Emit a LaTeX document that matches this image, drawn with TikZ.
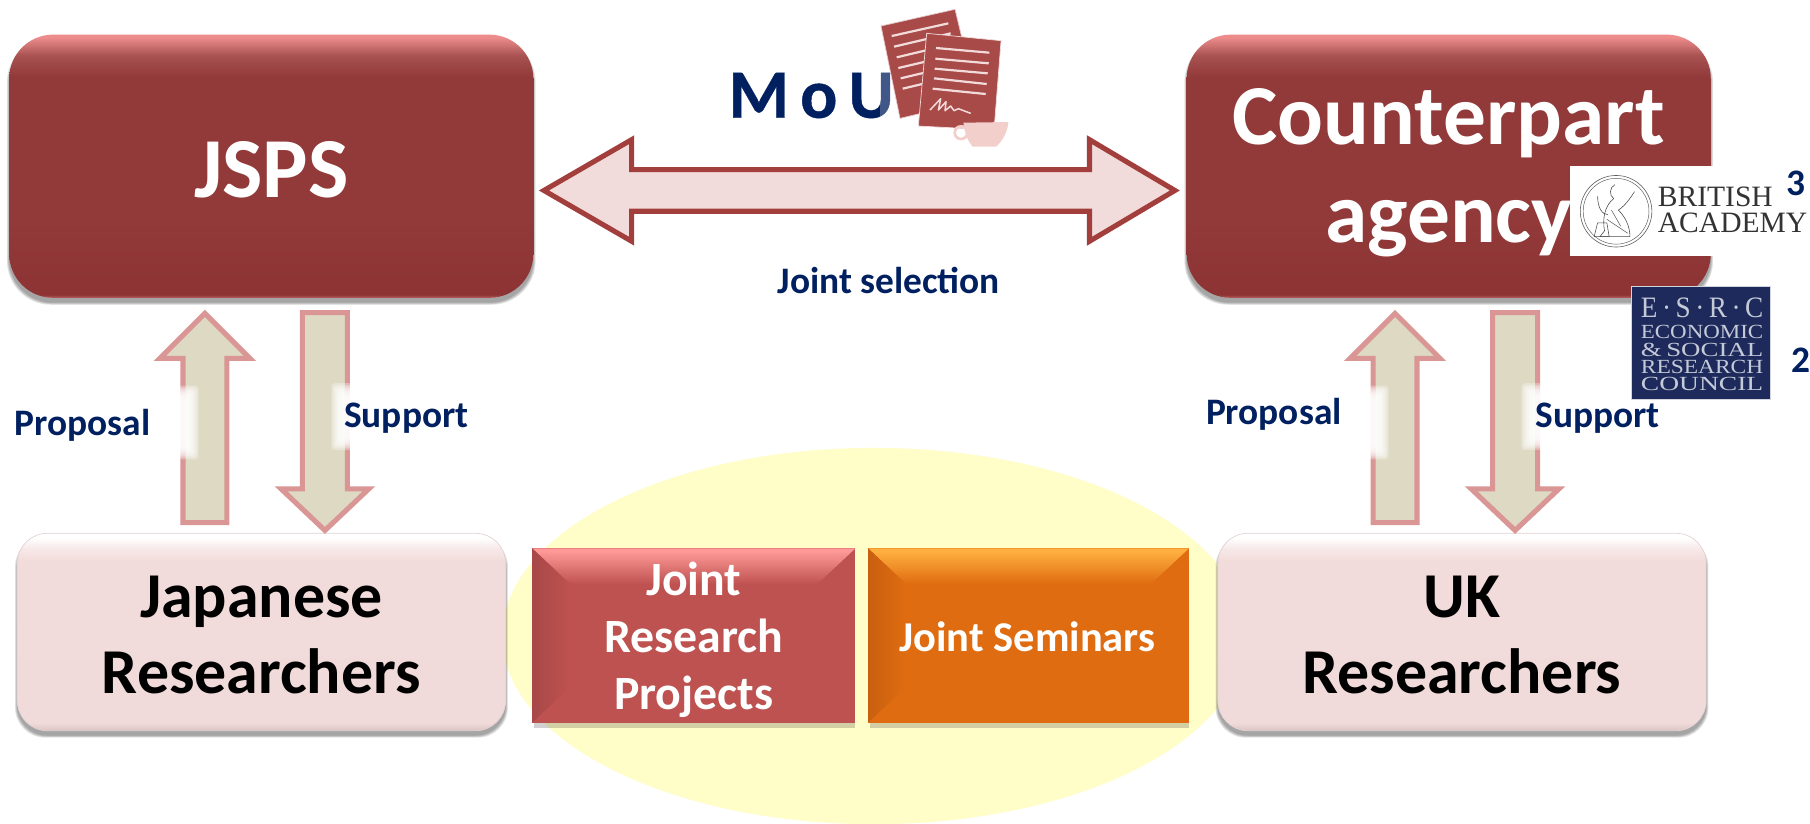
\documentclass[tikz,border=0pt]{standalone}
\usepackage{graphicx}
\usepackage{fontspec}
\setmainfont{Carlito}
\newfontfamily\logofont{Liberation Serif}
\newfontfamily\moufont[LetterSpace=16,BoldFeatures={FakeBold=0.6}]{Carlito}
\usetikzlibrary{calc,shapes.geometric}
\definecolor{navy}{HTML}{002060}
\definecolor{boxdark}{HTML}{923939}
\definecolor{boxedge}{HTML}{A23F3D}
\definecolor{paleroe}{HTML}{F2DCDB}
\definecolor{rose}{HTML}{D99694}
\definecolor{khaki}{HTML}{DDD9C3}
\definecolor{docred}{HTML}{A84A48}
\definecolor{cupcol}{HTML}{F2CFCB}
\definecolor{esrcblue}{HTML}{1D2A5B}
\definecolor{esrctext}{HTML}{C4CAD8}
\definecolor{dbA}{HTML}{B85E5E}
\definecolor{dbB}{HTML}{8D3333}
\definecolor{dbC}{HTML}{A85252}
\definecolor{dbD}{HTML}{EE8C8C}
\definecolor{pbA}{HTML}{DCC4C4}
\definecolor{pbB}{HTML}{F0DADA}
\definecolor{pbC}{HTML}{F7E8E8}
\definecolor{brA}{HTML}{BE5250}
\definecolor{brB}{HTML}{FF9A98}
\definecolor{boA}{HTML}{DF6C10}
\definecolor{boB}{HTML}{FFB040}
\definecolor{paleedge}{HTML}{E3D2D2}
\definecolor{sideA}{HTML}{A84848}
\definecolor{sideB}{HTML}{C96010}
\definecolor{yellowbg}{HTML}{FFFDC8}
\pgfdeclareverticalshading{darkbox}{100bp}{color(0bp)=(dbA); color(25bp)=(dbA); color(25.6bp)=(dbB); color(40bp)=(boxdark); color(67bp)=(boxdark); color(71bp)=(dbC); color(74.5bp)=(dbD); color(100bp)=(dbD)}
\pgfdeclareverticalshading{palebox}{100bp}{color(0bp)=(pbA); color(25bp)=(pbA); color(27bp)=(pbB); color(60bp)=(paleroe); color(68bp)=(paleroe); color(71bp)=(pbC); color(74bp)=(white); color(100bp)=(white)}
\pgfdeclareverticalshading{bevelred}{100bp}{color(0bp)=(brA); color(25bp)=(brA); color(72bp)=(brB); color(100bp)=(brB)}
\pgfdeclareverticalshading{bevelorange}{100bp}{color(0bp)=(boA); color(25bp)=(boA); color(72bp)=(boB); color(100bp)=(boB)}
\tikzset{
  bigbox/.style={rectangle,rounded corners=38pt,shading=darkbox,inner sep=0pt},
  palebx/.style={rectangle,rounded corners=26pt,shading=palebox,draw=paleedge,line width=.6pt,inner sep=0pt},
  paletext/.style={text=black,font=\bfseries\fontsize{55.4}{66}\selectfont,align=center,inner sep=0pt},
  lbl/.style={text=navy,font=\bfseries\fontsize{32.4}{36}\selectfont,inner sep=0pt},
  blocktext/.style={text=white,font=\bfseries\fontsize{41.4}{49.5}\selectfont,align=center,inner sep=0pt},
  blockarr/.style={draw=rose,fill=khaki,line width=4.4pt,miter limit=10},
  wide/.style={draw=boxedge,fill=paleroe,line width=4.4pt,miter limit=10},
  pagecol/.style={fill=docred,draw=white!70!docred,line width=.6pt},
  pageline/.style={draw=paleroe,line width=1.9pt},
  bigtext/.style={text=white,font=\bfseries\fontsize{74}{85}\selectfont,align=center,inner sep=0pt},
  logotext/.style={inner sep=0pt,anchor=base west,text=black!80,font=\logofont\fontsize{25.6}{28}\selectfont},
  esrctxt/.style={inner sep=0pt,text=esrctext,font=\logofont}
}
\newcommand\softshadow[5]{% x1 y1 x2 y2 radius
  \foreach \k in {0,1,2,3}{
    \fill[black,opacity=.10,rounded corners=#5] ({#1-2+\k*.6},{#2+3+\k*.6}) rectangle ({#3+2-\k*.6},{#4+6-\k*.6});
  }}
% from, to, half shaft, half head, head length
\newcommand\hollowarrow[5]{%
  \coordinate (hb) at ($(#2)!#5pt!(#1)$);
  \coordinate (sa) at ($(#1)!#3pt!90:(#2)$);
  \coordinate (sb) at ($(#1)!#3pt!-90:(#2)$);
  \coordinate (ha) at ($(hb)!#3pt!90:(#2)$);
  \coordinate (hc) at ($(hb)!#3pt!-90:(#2)$);
  \coordinate (ta) at ($(hb)!#4pt!90:(#2)$);
  \coordinate (tc) at ($(hb)!#4pt!-90:(#2)$);
  \draw[blockarr] (sa) -- (ha) -- (ta) -- (#2) -- (tc) -- (hc) -- (sb) -- cycle;
}
% fixed x, soft x, direction of softening, y1, y2
\newcommand\blurpatch[5]{%
  \foreach \k in {0,...,7}{
    \fill[white,opacity=.3,rounded corners=3pt] (#1,{#4+\k*1.5}) rectangle ({#2+#3*\k*1.5},{#5-\k*1.5});
  }}
\begin{document}
\begin{tikzpicture}[x=1pt,y=-1pt]
\useasboundingbox (0,0) rectangle (1568,713);
\fill[white] (0,0) rectangle (1568,713);
% yellow ellipse
\begin{scope}
\clip (0,0) rectangle (1568,713);
\fill[yellowbg] (757,551) ellipse [x radius=322,y radius=163];
\end{scope}
% top boxes
\softshadow{8}{30}{462}{258}{38pt}
\softshadow{1028}{30}{1482}{258}{38pt}
\node[bigbox,minimum width=454pt,minimum height=228pt] (jsps) at (235,144) {};
\node[bigbox,minimum width=454pt,minimum height=228pt] (agency) at (1255,144) {};
\node[bigtext] (jspstext) at (235,147) {JSPS};
\node[bigtext] (agencytext) at (1255,150) {Counterpart\\agency};
% lower boxes
\softshadow{15}{462}{438}{633}{26pt}
\softshadow{1055}{462}{1478}{633}{26pt}
\node[palebx,minimum width=423pt,minimum height=171pt] (jres) at (226.5,547.5) {};
\node[palebx,minimum width=423pt,minimum height=171pt] (ukres) at (1266.5,547.5) {};
\node[paletext] (jrestext) at (226.5,550) {Japanese\\Researchers};
\node[paletext] (ukrestext) at (1266.5,550) {UK\\Researchers};
% bevelled blocks
\fill[black,opacity=.18] (463,626) rectangle (741,631);
\fill[black,opacity=.18] (754,626) rectangle (1030,631);
\node[rectangle,fill=brA,minimum width=280pt,minimum height=151pt,inner sep=0pt] (redblock) at (601,550.5) {};
\node[rectangle,fill=boA,minimum width=278pt,minimum height=151pt,inner sep=0pt] (orangeblock) at (891,550.5) {};
\shade[shading=bevelred] (461,475) -- (741,475) -- (708,506) -- (494,506) -- cycle;
\shade[left color=sideA,right color=brA] (461,475) -- (494,506) -- (494,595) -- (461,626) -- cycle;
\shade[shading=bevelorange] (752,475) -- (1030,475) -- (997,506) -- (785,506) -- cycle;
\shade[left color=sideB,right color=boA] (752,475) -- (785,506) -- (785,595) -- (752,626) -- cycle;
\node[blocktext] (redtext) at (601,554) {Joint\\Research\\Projects};
\node[blocktext,font=\bfseries\fontsize{36.8}{44}\selectfont] (orangetext) at (890,552) {Joint Seminars};
% wide double arrow
\coordinate (wl) at ($(jsps.east)+(9,21)$);
\coordinate (wr) at ($(agency.west)+(-10,21)$);
\draw[wide] (wl) -- ++(76,-44) -- ++(0,26) -- ($(wr)+(-74,-18)$) -- ++(0,-26) -- (wr) -- ++(-74,44) -- ++(0,-26) -- ($(wl)+(76,18)$) -- ++(0,26) -- cycle;
% block arrows
\foreach \dx/\nm in {0/a,1031/b}{
  \begin{scope}[shift={(\dx,0)}]
  \coordinate (pf\nm) at (177.5,452.8);
  \coordinate (pt\nm) at (177.5,271.5);
  \hollowarrow{pf\nm}{pt\nm}{19}{39}{39}
  \coordinate (sf\nm) at (281.5,270.8);
  \coordinate (st\nm) at (281.5,459.5);
  \hollowarrow{sf\nm}{st\nm}{19.5}{38}{36}
  \blurpatch{153}{172}{-1}{334}{398}
  \blurpatch{306}{287}{1}{332}{390}
  \end{scope}
}
% labels
\node[lbl] (prop1) at (71.5,368.5) {Proposal};
\node[lbl] (supp1) at (352,362.5) {Support};
\node[lbl] (prop2) at (1103.5,359) {Proposal};
\node[lbl] (supp2) at (1384,362.5) {Support};
\node[lbl] (jointsel) at (770,243) {Joint selection};
% MoU
\node[text=navy,font=\moufont\bfseries\fontsize{60}{62}\selectfont,inner sep=0pt,anchor=base west] (mou) at (631,102) {MoU};
% documents (zoom-grid coordinates)
\begin{scope}[shift={(606.4,0)},x=.2888pt,y=-.2888pt]
\fill[white,opacity=.25] (540,190) rectangle (590,360);
\fill[pagecol] (543,78) -- (765,28) -- (830,300) -- (600,355) -- cycle;
\foreach \a/\b/\c/\d in {575/108/745/70,582/140/752/100,590/172/758/132,595/204/765/164,602/235/770/195,608/266/775/226}{
  \draw[pageline] (\a,\b) -- (\c,\d);
}
\fill[pagecol,draw=paleroe] (680,100) -- (903,122) -- (882,390) -- (655,378) -- cycle;
\foreach \a/\b/\c/\d in {708/144/868/158,706/176/866/190,704/206/863/220,702/235/860/252,698/266/857/282}{
  \draw[pageline] (\a,\b) -- (\c,\d);
}
\draw[pageline,line width=1.3pt,line join=round] (690,330) -- (722,296) -- (715,330) -- (738,305) -- (735,332) -- (752,318) -- (762,332) -- (775,326) -- (812,340);
\fill[cupcol] (790,368) -- (925,366) .. controls (922,400) and (905,425) .. (888,440) -- (818,440) .. controls (805,425) and (795,405) .. (790,368) -- cycle;
\draw[cupcol,line width=2.4pt] (783,398) circle [radius=19];
\end{scope}
% British Academy logo
\fill[white] (1360,144) rectangle (1568,222);
\coordinate (baseal) at (1400,183);
\draw[black!65,line width=.5pt] (baseal) circle [radius=31];
\draw[black!65,line width=.4pt] (baseal) circle [radius=28.5];
\draw[black!70,line width=.5pt,line join=round] (1399,160) .. controls (1394,162) and (1394,170) .. (1398,172) .. controls (1390,178) and (1388,190) .. (1390,200) -- (1386,205) -- (1412,205) .. controls (1412,196) and (1408,188) .. (1402,182) .. controls (1408,178) and (1412,172) .. (1416,166);
\draw[black!70,line width=.5pt] (1384,170) .. controls (1384,180) and (1388,186) .. (1393,186);
\draw[black!70,line width=.5pt] (1384,193) -- (1381,205) -- (1394,205) -- (1392,193) -- cycle;
\draw[black!70,line width=.4pt] (1392,190) -- (1410,202) (1396,182) -- (1404,196);
\node[logotext] (ba1) at (1436,178.5) {BRITISH};
\node[logotext] (ba2) at (1436,201.6) {ACADEMY};
% ESRC logo
\node[rectangle,fill=esrcblue,draw=white!80!esrcblue,line width=.6pt,minimum width=121pt,minimum height=98pt,inner sep=0pt] (esrc) at (1473.5,297) {};
\node[esrctxt] (es0) at (1474.5,267) {\resizebox{106pt}{17pt}{E\,·\,S\,·\,R\,·\,C}};
\node[esrctxt] (es1) at (1474.5,288) {\resizebox{106pt}{11.5pt}{ECONOMIC}};
\node[esrctxt] (es2) at (1474.5,303) {\resizebox{106pt}{11.5pt}{\&\,SOCIAL}};
\node[esrctxt] (es3) at (1474.5,318) {\resizebox{106pt}{11.5pt}{RESEARCH}};
\node[esrctxt] (es4) at (1474.5,333) {\resizebox{106pt}{11.5pt}{COUNCIL}};
\node[lbl] (n3) at (1555.5,159) {3};
\node[lbl] (n2) at (1560,312) {2};
\end{tikzpicture}
\end{document}
